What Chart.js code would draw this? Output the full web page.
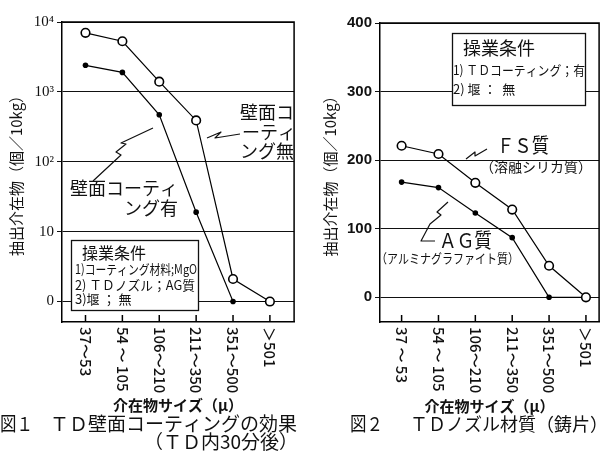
<!DOCTYPE html>
<html><head><meta charset="utf-8">
<script src="https://cdn.jsdelivr.net/npm/chart.js@4.4.0/dist/chart.umd.min.js"></script>
<style>
html,body{margin:0;padding:0;background:#fff;overflow:hidden}
#w{position:relative;width:605px;height:460px;background:#fff}
canvas{position:absolute;top:0}
#c1{left:0}
#c2{left:300px}
</style></head><body>
<div id="w"><canvas id="c1" width="300" height="460"></canvas><canvas id="c2" width="305" height="460"></canvas></div>
<script>
// ---- data (figure 1: wall coating, counts per 10 kg, log axis) ----
const sizeLabels1 = ["37～53", "54 ～ 105", "106～210", "211～350", "351～500", "＞501"];
const coatingWithout = [7000, 5300, 1400, 390, 2.1, 0];   // 壁面コーティング無 (open)
const coatingWith = [2400, 1900, 470, 19, 0, 0];          // 壁面コーティング有 (filled)
const yTickValues1 = [0, 1, 2, 3, 4];                      // log10 positions
const yTickLabels1 = ["0", "10", "10²", "10³", "10⁴"];

// ---- data (figure 2: nozzle material) ----
const sizeLabels2 = ["37 ～ 53", "54 ～ 105", "106～210", "211～350", "351～500", "＞501"];
const fsValues = [221, 209, 167, 128, 46, 0];   // FS質 (open)
const agValues = [168, 160, 123, 87, 0, 0];     // AG質 (filled)
const yTickValues2 = [0, 100, 200, 300, 400];
const yTickLabels2 = ["0", "100", "200", "300", "400"];

const JP = "'Noto Sans CJK JP', sans-serif";
const INK = '#111';

function txt(ctx, s, x, y, size, o) {
  o = o || {};
  ctx.save();
  ctx.font = (o.weight || 'normal') + ' ' + size + 'px ' + (o.family || JP);
  ctx.fillStyle = INK;
  ctx.textAlign = o.align || 'left';
  ctx.textBaseline = 'middle';
  if (o.maxW) ctx.fillText(s, x, y, o.maxW); else ctx.fillText(s, x, y);
  ctx.restore();
}
function poly(ctx, pts, lw) {
  ctx.save();
  ctx.strokeStyle = INK; ctx.lineWidth = lw || 1.2; ctx.lineJoin = 'round';
  ctx.beginPath();
  pts.forEach((p, i) => i ? ctx.lineTo(p[0], p[1]) : ctx.moveTo(p[0], p[1]));
  ctx.stroke();
  ctx.restore();
}
function box(ctx, x, y, w, h) {
  ctx.save();
  ctx.fillStyle = '#fff'; ctx.strokeStyle = INK; ctx.lineWidth = 1.3;
  ctx.fillRect(x, y, w, h); ctx.strokeRect(x, y, w, h);
  ctx.restore();
}

// frame, inner x ticks and rotated category labels
function axisPlugin(labels) {
  return {
    id: 'axisDeco',
    afterDraw(chart) {
      const ctx = chart.ctx, a = chart.chartArea, xs = chart.scales.x;
      ctx.save();
      ctx.strokeStyle = '#000'; ctx.lineWidth = 1.5;
      ctx.beginPath(); ctx.moveTo(a.left, a.top); ctx.lineTo(a.right, a.top); ctx.lineTo(a.right, a.bottom); ctx.stroke();
      labels.forEach((lab, i) => {
        const x = xs.getPixelForValue(i);
        ctx.beginPath(); ctx.moveTo(x, a.bottom); ctx.lineTo(x, a.bottom - 7); ctx.stroke();
        ctx.save();
        ctx.translate(x, a.bottom + 5);
        ctx.rotate(Math.PI / 2);
        ctx.font = '500 15px ' + JP;
        ctx.fillStyle = INK; ctx.textAlign = 'left'; ctx.textBaseline = 'middle';
        ctx.fillText(lab, 0, 0);
        ctx.restore();
      });
      ctx.restore();
    }
  };
}

const annot1 = {
  id: 'annot1',
  afterDraw(chart) {
    const ctx = chart.ctx;
    // labels for the curves
    txt(ctx, '壁面コ', 240, 112, 18);
    txt(ctx, 'ーティ', 242, 132, 18);
    txt(ctx, 'ング無', 240, 151, 18);
    txt(ctx, '壁面コーティ', 70, 188, 18, {maxW: 110});
    txt(ctx, 'ング有', 124, 208, 18);
    poly(ctx, [[207, 138], [221, 132], [215, 138], [240, 134]]);
    poly(ctx, [[93, 181], [121, 155], [116, 152], [126, 144], [121, 143], [153, 128]]);
    // conditions box
    box(ctx, 71.5, 240.5, 127, 70);
    txt(ctx, '操業条件', 82, 253, 16);
    txt(ctx, '1)コーティング材料;MgO', 75, 269, 13, {maxW: 122});
    txt(ctx, '2) ＴＤノズル；AG質', 75, 285, 13, {maxW: 120});
    txt(ctx, '3)堰 ； 無', 75, 299, 13, {maxW: 60});
    // caption
    txt(ctx, '図１', 0, 424, 19, {maxW: 33});
    txt(ctx, 'ＴＤ壁面コーティングの効果', 50, 424, 19, {maxW: 250});
    txt(ctx, '（ＴＤ内30分後）', 298, 442, 19, {align: 'right', maxW: 160});
  }
};

const annot2 = {
  id: 'annot2',
  afterDraw(chart) {
    const ctx = chart.ctx;
    box(ctx, 152.5, 33.5, 133, 72);
    txt(ctx, '操業条件', 163, 48, 18);
    txt(ctx, '1) ＴＤコーティング；有', 153, 70, 13, {maxW: 132});
    txt(ctx, '2) 堰 ：  無', 153, 89, 13, {maxW: 74});
    txt(ctx, 'ＦＳ質', 197, 145, 20, {maxW: 52});
    txt(ctx, '（溶融シリカ質）', 180, 167, 14, {maxW: 113});
    poly(ctx, [[166, 159], [175, 152], [175, 156], [187, 149]]);
    txt(ctx, 'ＡＧ質', 139, 240, 20, {maxW: 53});
    txt(ctx, '（アルミナグラファイト質）', 76, 258, 13, {maxW: 143});
    poly(ctx, [[148, 202], [137, 212], [141, 215], [130, 224], [121, 241], [135, 241]]);
    txt(ctx, '図２', 50, 424, 19, {maxW: 33});
    txt(ctx, 'ＴＤノズル材質（鋳片）', 110, 424, 18);
  }
};

function makeChart(id, c) {
  return new Chart(document.getElementById(id), {
    type: 'line',
    data: {
      datasets: [
        { data: c.open.map((v, i) => ({x: i, y: c.tf(v)})), borderColor: '#000', borderWidth: 1.2,
          pointRadius: 4.3, pointBackgroundColor: '#fff', pointBorderColor: '#000', pointBorderWidth: 1.6, tension: 0 },
        { data: c.filled.map((v, i) => ({x: i, y: c.tf(v)})), borderColor: '#000', borderWidth: 1.2,
          pointRadius: 2.8, pointBackgroundColor: '#000', pointBorderColor: '#000', pointBorderWidth: 0, tension: 0 }
      ]
    },
    options: {
      responsive: false, animation: false, devicePixelRatio: 1,
      layout: {padding: {top: c.top, right: c.right, left: 0, bottom: 0}},
      plugins: {legend: {display: false}, tooltip: {enabled: false}},
      scales: {
        x: {
          type: 'linear', min: c.xmin, max: c.xmax,
          ticks: {display: false}, grid: {display: false},
          border: {display: true, color: '#000', width: 1.5},
          title: {display: true, text: '介在物サイズ（μ）', color: INK,
                  font: {family: JP, size: 15, weight: 'bold'}, padding: {top: 0, bottom: c.xtPad}},
          afterFit(s) { s.height = 138; }
        },
        y: {
          type: 'linear', min: c.ymin, max: c.ymax,
          afterBuildTicks(s) { s.ticks = c.yTicks.map(v => ({value: v})); },
          ticks: {callback: v => c.yLabels[c.yTicks.indexOf(v)], color: INK, padding: 3,
                  font: c.tickFont},
          grid: {color: '#111', lineWidth: 1, tickLength: 5},
          border: {display: true, color: '#000', width: 1.5},
          title: {display: true, text: '抽出介在物（個／10kg）', color: INK,
                  font: {family: JP, size: 15}, padding: {top: c.ytPad, bottom: 0}},
          afterFit(s) { s.width = c.yw; }
        }
      }
    },
    plugins: [axisPlugin(c.cats), c.annot]
  });
}

makeChart('c1', {
  open: coatingWithout, filled: coatingWith, cats: sizeLabels1,
  tf: v => v > 0 ? Math.log10(v) : 0,
  xmin: -0.637, xmax: 5.656, ymin: -0.293, ymax: 4,
  yTicks: yTickValues1, yLabels: yTickLabels1,
  tickFont: {family: "'Liberation Serif', serif", size: 15},
  top: 22, right: 3, yw: 62, ytPad: 7, xtPad: 46, annot: annot1
});
makeChart('c2', {
  open: fsValues, filled: agValues, cats: sizeLabels2,
  tf: v => v,
  xmin: -0.586, xmax: 5.357, ymin: -36, ymax: 400,
  yTicks: yTickValues2, yLabels: yTickLabels2,
  tickFont: {family: "'Liberation Sans Narrow', 'Liberation Sans', sans-serif", size: 15, weight: 'bold'},
  top: 23, right: 4, yw: 80, ytPad: 21, xtPad: 45, annot: annot2
});
</script>
</body></html>
